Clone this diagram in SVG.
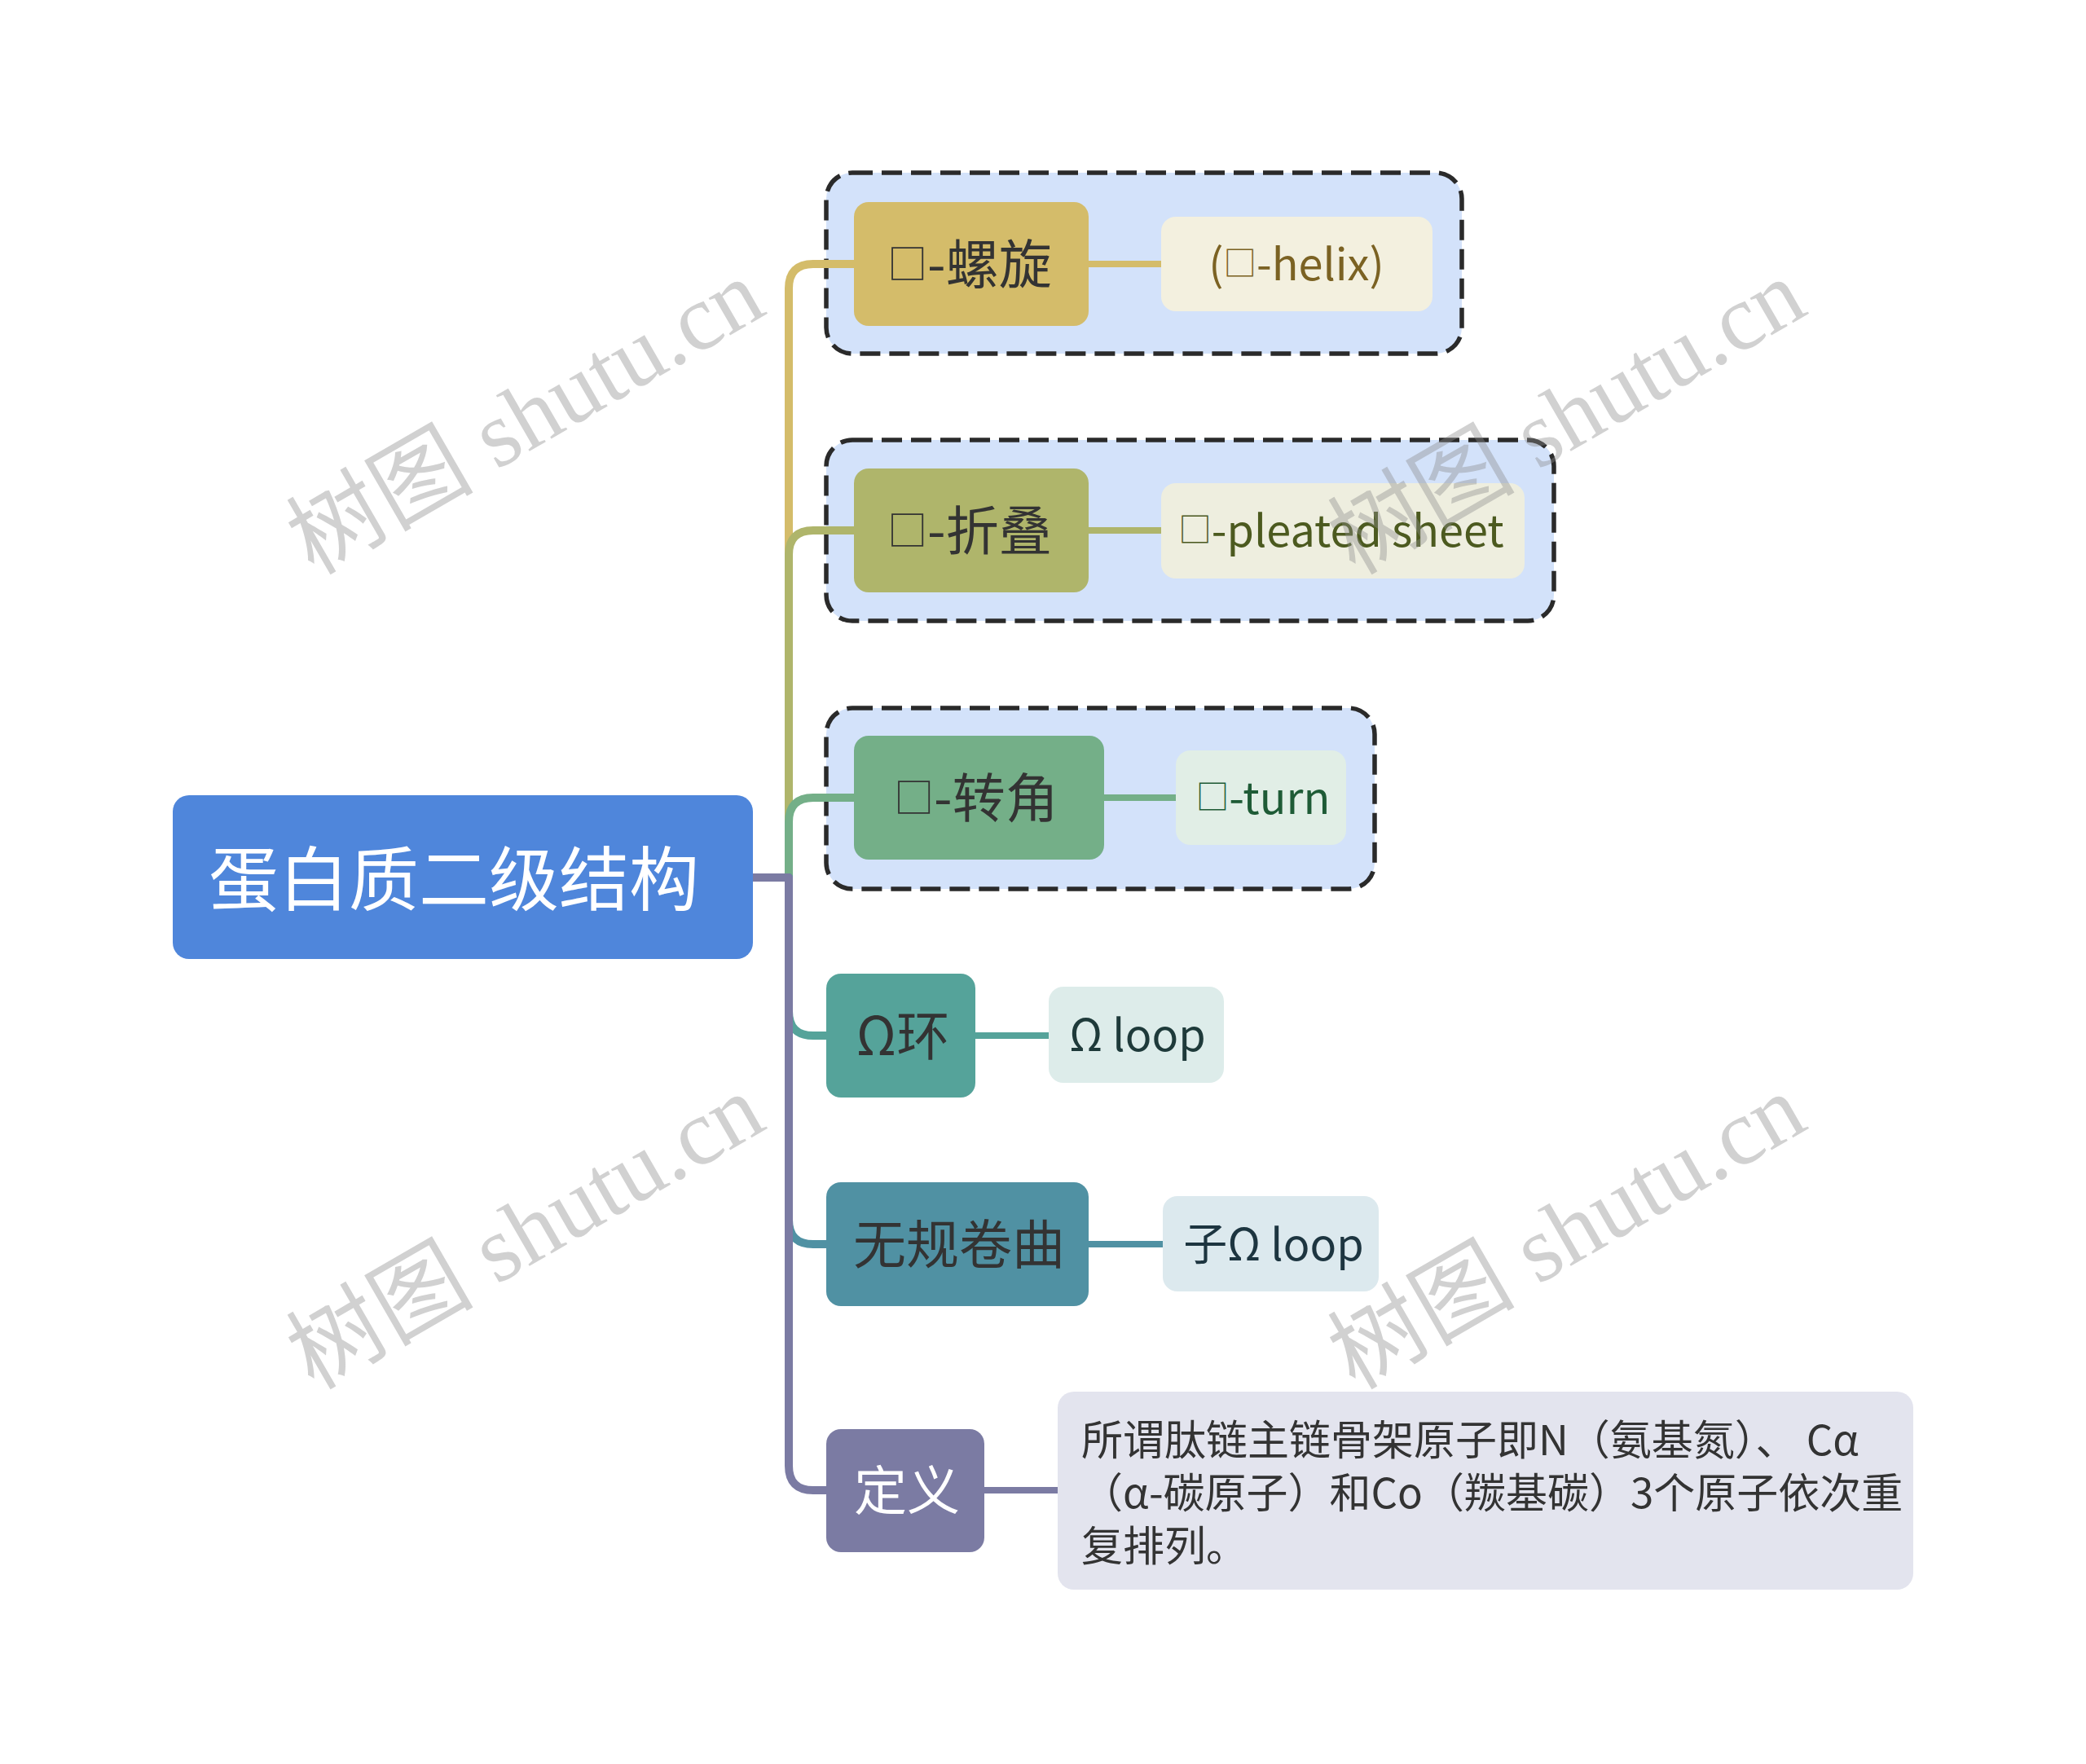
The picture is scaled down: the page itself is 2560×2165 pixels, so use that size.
<svg xmlns="http://www.w3.org/2000/svg" width="2560" height="2165" viewBox="0 0 2560 2165">
<style>
text{font-family:"Noto Sans CJK SC","Noto Sans",sans-serif;text-anchor:middle;dominant-baseline:central}
.box{fill:#D3E2FA;stroke:#2A2A2A;stroke-width:5.5;stroke-dasharray:25 11}
.main{font-size:65px;fill:#333333}
.sub{font-size:54px}
.tofu{font-size:0.75em}
.conn{fill:none;stroke-width:10;stroke-linejoin:round}
.link{fill:none;stroke-width:8}
.wm{font-family:"Liberation Serif","Noto Sans CJK SC",serif;font-size:115px;fill:#8C8C8C;fill-opacity:0.4;text-anchor:middle;dominant-baseline:central}
</style>
<rect width="2560" height="2165" fill="#FFFFFF"/>
<g id="groups">
<rect class="box" x="1014" y="212" width="780" height="222" rx="32"/>
<rect class="box" x="1014" y="540" width="893" height="222" rx="32"/>
<rect class="box" x="1014" y="869" width="673" height="222" rx="32"/>
</g>
<g id="connectors">
<path class="conn" stroke="#D4BC6A" d="M924 1077 H968 V354 Q968 324 998 324 H1050"/>
<path class="conn" stroke="#AFB56B" d="M924 1077 H968 V681 Q968 651 998 651 H1050"/>
<path class="conn" stroke="#74AF88" d="M924 1077 H968 V1009 Q968 979 998 979 H1050"/>
<path class="conn" stroke="#55A39A" d="M924 1077 H968 V1241 Q968 1271 998 1271 H1016"/>
<path class="conn" stroke="#5091A3" d="M924 1077 H968 V1497 Q968 1527 998 1527 H1016"/>
<path class="conn" stroke="#7B7BA3" d="M924 1077 H968 V1799 Q968 1829 998 1829 H1016"/>
<line class="link" stroke="#D4BC6A" x1="1336" y1="324" x2="1425" y2="324"/>
<line class="link" stroke="#AFB56B" x1="1336" y1="651" x2="1425" y2="651"/>
<line class="link" stroke="#74AF88" x1="1355" y1="979" x2="1443" y2="979"/>
<line class="link" stroke="#55A39A" x1="1197" y1="1271" x2="1287" y2="1271"/>
<line class="link" stroke="#5091A3" x1="1336" y1="1527" x2="1427" y2="1527"/>
<line class="link" stroke="#7B7BA3" x1="1208" y1="1829" x2="1298" y2="1829"/>
</g>
<g id="root">
<rect x="212" y="976" width="712" height="201" rx="20" fill="#4F86DB"/>
<text x="557" y="1073" font-size="86" style="fill:#FFFFFF">蛋白质二级结构</text>
</g>
<g id="n-helix">
<rect x="1048" y="248" width="288" height="152" rx="18" fill="#D4BC6A"/>
<text class="main" x="1190" y="320"><tspan class="tofu">□</tspan>-螺旋</text>
</g>
<g id="n-helix-sub">
<rect x="1425" y="266" width="333" height="116" rx="18" fill="#F3F0DF"/>
<text class="sub" x="1591" y="320" style="fill:#7B6223">(<tspan class="tofu">□</tspan>-helix)</text>
</g>
<g id="n-sheet">
<rect x="1048" y="575" width="288" height="152" rx="18" fill="#AFB56B"/>
<text class="main" x="1190" y="647"><tspan class="tofu">□</tspan>-折叠</text>
</g>
<g id="n-sheet-sub">
<rect x="1425" y="593" width="446" height="117" rx="18" fill="#EEEEDF"/>
<text class="sub" x="1646" y="647" style="fill:#4C5A1F"><tspan class="tofu">□</tspan>-pleated sheet</text>
</g>
<g id="n-turn">
<rect x="1048" y="903" width="307" height="152" rx="18" fill="#74AF88"/>
<text class="main" x="1198" y="975"><tspan class="tofu">□</tspan>-转角</text>
</g>
<g id="n-turn-sub">
<rect x="1443" y="921" width="209" height="116" rx="18" fill="#E1EEE6"/>
<text class="sub" x="1550" y="975" style="fill:#1E5B36"><tspan class="tofu">□</tspan>-turn</text>
</g>
<g id="n-omega">
<rect x="1014" y="1195" width="183" height="152" rx="18" fill="#55A39A"/>
<text class="main" x="1108" y="1267">Ω环</text>
</g>
<g id="n-omega-sub">
<rect x="1287" y="1211" width="215" height="118" rx="18" fill="#DDECEA"/>
<text class="sub" x="1396" y="1266" style="fill:#1E3A3A">Ω loop</text>
</g>
<g id="n-coil">
<rect x="1014" y="1451" width="322" height="152" rx="18" fill="#5091A3"/>
<text class="main" x="1177" y="1523">无规卷曲</text>
</g>
<g id="n-coil-sub">
<rect x="1427" y="1468" width="265" height="117" rx="18" fill="#DCE9EE"/>
<text class="sub" x="1563" y="1523" style="fill:#1D3540">子Ω loop</text>
</g>
<g id="n-def">
<rect x="1014" y="1754" width="194" height="151" rx="18" fill="#7B7BA3"/>
<text class="main" x="1113" y="1825" style="fill:#FFFFFF">定义</text>
</g>
<g id="n-def-sub">
<rect x="1298" y="1708" width="1050" height="243" rx="20" fill="#E3E4EE"/>
<text font-size="51" style="fill:#333333;text-anchor:start"><tspan x="1327" y="1764">所谓肽链主链骨架原子即N（氨基氮）、 Cα</tspan><tspan x="1327" y="1829">（α-碳原子）和Co（羰基碳）3个原子依次重</tspan><tspan x="1327" y="1894">复排列。</tspan></text>
</g>
<g id="watermarks">
<text class="wm" transform="translate(645 512) rotate(-30)">树图 shutu.cn</text>
<text class="wm" transform="translate(1923 512) rotate(-30)">树图 shutu.cn</text>
<text class="wm" transform="translate(645 1512) rotate(-30)">树图 shutu.cn</text>
<text class="wm" transform="translate(1923 1512) rotate(-30)">树图 shutu.cn</text>
</g>
</svg>
